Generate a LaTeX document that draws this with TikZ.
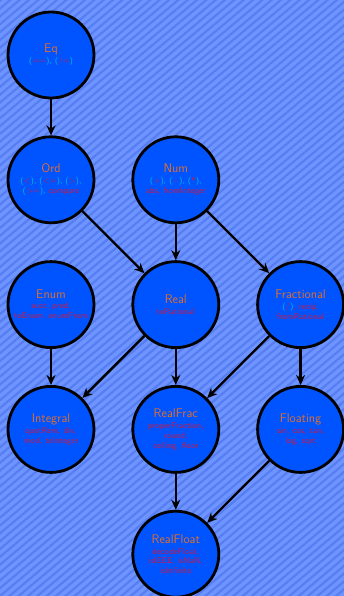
\documentclass[tikz,border=0pt]{standalone}
\usepackage{tikz}
\usetikzlibrary{arrows.meta,positioning,patterns.meta}
\definecolor{bgblue}{RGB}{110,148,255}
\definecolor{bgline}{RGB}{86,125,242}
\definecolor{cls}{RGB}{0,84,255}
\definecolor{ttl}{RGB}{228,110,40}
\definecolor{prn}{RGB}{0,190,215}
\definecolor{fn}{RGB}{205,25,70}
\newcommand{\opp}[1]{\textcolor{prn}{(}\textcolor{fn}{#1}\textcolor{prn}{)}}
\newcommand{\cm}{\textcolor{prn}{,}}
\tikzset{
  tc/.style={circle,draw=black,line width=2.8pt,fill=cls,minimum size=86pt,inner sep=1pt,align=center,
    font=\sffamily\fontsize{8.3}{9.8}\selectfont,text=fn},
  arr/.style={-{Stealth[length=10pt,width=9pt]},line width=2.4pt}
}
\newcommand{\tcl}[2]{{\fontsize{12.5}{14}\selectfont\textcolor{ttl}{#1}}\\[1pt]#2}
\begin{document}
\begin{tikzpicture}[x=1pt,y=1pt,node distance=36pt]
\fill[bgblue] (0,0) rectangle (344,-596);
\fill[pattern={Lines[angle=40,distance=6pt,line width=2.2pt]},pattern color=bgline] (0,0) rectangle (344,-596);
\useasboundingbox (0,0) rectangle (344,-596);
\node[tc] (eq) at (51,-55) {\tcl{Eq}{\opp{==}\cm{} \opp{/=}}};
\node[tc,below=of eq] (ord) {\tcl{Ord}{\opp{<}\cm{} \opp{<=}\cm{} \opp{>}\cm\\ \opp{>=}\cm{} compare}};
\node[tc,right=of ord] (num) {\tcl{Num}{\opp{+}\cm{} \opp{$-$}\cm{} \opp{*}\cm\\ abs, fromInteger}};
\node[tc,below=of ord] (enum) {\tcl{Enum}{succ, pred,\\ toEnum, enumFrom}};
\node[tc,below=of num] (real) {\tcl{Real}{toRational}};
\node[tc,right=of real] (frac) {\tcl{Fractional}{\opp{/}, recip,\\ fromRational}};
\node[tc,below=of enum] (intg) {\tcl{Integral}{quotRem, div,\\ mod, toInteger}};
\node[tc,below=of real] (rfrac) {\tcl{RealFrac}{properFraction,\\ round,\\ ceiling, floor}};
\node[tc,below=of frac] (flt) {\tcl{Floating}{sin, cos, tan,\\ log, sqrt}};
\node[tc,below=of rfrac] (rflt) {\tcl{RealFloat}{decodeFloat,\\ isIEEE, isNaN,\\ isInfinite}};
\foreach \a/\b in {eq/ord,ord/real,num/real,num/frac,enum/intg,real/intg,real/rfrac,frac/rfrac,frac/flt,rfrac/rflt,flt/rflt}
  \draw[arr] (\a) -- (\b);
\end{tikzpicture}
\end{document}
